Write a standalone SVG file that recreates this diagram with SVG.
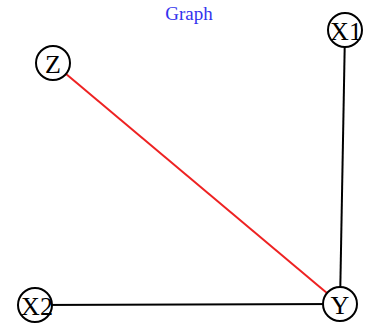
<svg xmlns="http://www.w3.org/2000/svg" width="367" height="323" viewBox="0 0 367 323">
<style>
.n circle{fill:#fff;stroke:#000;stroke-width:2}
.n text{font-family:"Liberation Serif",serif;font-size:26px;text-anchor:middle;dominant-baseline:central;fill:#000}
.e{stroke-width:2;fill:none}
</style>
<rect width="367" height="323" fill="#fff"/>
<text x="189" y="20" font-family="Liberation Serif, serif" font-size="19" fill="#3333ee" text-anchor="middle">Graph</text>
<g id="edges">
<line class="e" x1="53" y1="63" x2="340" y2="304" stroke="#ee2222"/>
<line class="e" x1="345" y1="30" x2="340" y2="304" stroke="#000"/>
<line class="e" x1="35" y1="305" x2="340" y2="304" stroke="#000"/>
</g>
<g id="Z" class="n"><circle cx="53" cy="63" r="17"/><text x="53" y="64">Z</text></g>
<g id="X1" class="n"><circle cx="345" cy="30" r="17"/><text x="346" y="31">X1</text></g>
<g id="X2" class="n"><circle cx="35" cy="305" r="17"/><text x="37" y="306">X2</text></g>
<g id="Y" class="n"><circle cx="340" cy="304" r="17"/><text x="340" y="305">Y</text></g>
</svg>
